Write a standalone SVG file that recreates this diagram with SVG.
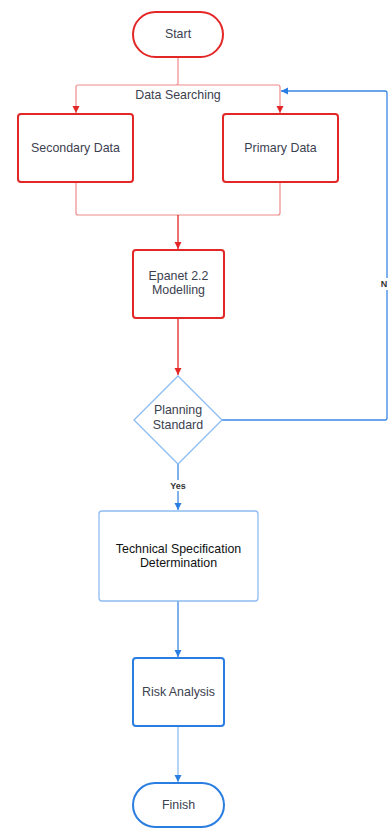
<svg xmlns="http://www.w3.org/2000/svg" width="388" height="828" viewBox="0 0 388 828">
<defs>
<marker id="ar" viewBox="0 0 10 10" refX="10" refY="5" markerWidth="7" markerHeight="8" markerUnits="userSpaceOnUse" orient="auto"><path d="M0,0 L10,5 L0,10 z" fill="#e32626"/></marker>
<marker id="ab" viewBox="0 0 10 10" refX="10" refY="5" markerWidth="7" markerHeight="8" markerUnits="userSpaceOnUse" orient="auto"><path d="M0,0 L10,5 L0,10 z" fill="#2a7de1"/></marker>
</defs>
<style>
text{font-family:"Liberation Sans",Arial,sans-serif;font-size:12.4px;fill:#3c4150;text-anchor:middle}
.red{fill:#fff;stroke:#e32626;stroke-width:2}
.blue{fill:#fff;stroke:#2a7de1;stroke-width:2}
.lblue{fill:#fff;stroke:#8dbcf2;stroke-width:1.3}
.cr{fill:none;stroke:#f08a8a;stroke-width:1.2}
.crs{fill:none;stroke:#e32626;stroke-width:1.3}
.cb{fill:none;stroke:#3a87e4;stroke-width:1.3}
.cbl{fill:none;stroke:#8dbcf2;stroke-width:1.3}
.lbl{font-size:9px;font-weight:bold;fill:#333}
</style>
<rect width="388" height="828" fill="#fff"/>
<g id="connectors">
<path class="cr" d="M178,57 V83 Q178,85 176,85 H78 Q76,85 76,87 V113" marker-end="url(#ar)"/>
<path class="cr" d="M178,85 H278 Q280,85 280,87 V113" marker-end="url(#ar)"/>
<path class="cr" d="M76,182 V213 Q76,215 78,215 H278 Q280,215 280,213 V182"/>
<path class="crs" d="M178,215 V249" marker-end="url(#ar)"/>
<path class="crs" d="M178,318 V375" marker-end="url(#ar)"/>
<path class="cb" d="M222,420 H385 Q387,420 387,418 V290"/>
<path class="cb" d="M387,278 V93 Q387,91 385,91 H281" marker-end="url(#ab)"/>
<text class="lbl" x="384" y="287">N</text>
<path class="cb" d="M178,464 V510" marker-end="url(#ab)"/>
<rect x="168" y="480" width="20" height="11" fill="#fff"/>
<text class="lbl" x="178" y="489">Yes</text>
<path class="cb" d="M178,601 V657" marker-end="url(#ab)"/>
<path class="cbl" d="M178,726 V782" marker-end="url(#ab)"/>
</g>
<text x="178" y="99">Data Searching</text>
<g id="start"><rect class="red" x="133" y="12" width="90" height="45" rx="22.5"/><text x="178" y="38">Start</text></g>
<g id="secondary"><rect class="red" x="18" y="114" width="115" height="68" rx="3"/><text x="75.5" y="151.5">Secondary Data</text></g>
<g id="primary"><rect class="red" x="223" y="114" width="115" height="68" rx="3"/><text x="280.5" y="151.5">Primary Data</text></g>
<g id="epanet"><rect class="red" x="133" y="250" width="91" height="68" rx="3"/><text x="178.5" y="279.5">Epanet 2.2</text><text x="178.5" y="294">Modelling</text></g>
<g id="planning"><path class="lblue" d="M178,376 L222,420 L178,464 L134,420 Z"/><text x="178" y="414">Planning</text><text x="178" y="429">Standard</text></g>
<g id="technical"><rect class="lblue" x="99" y="511" width="159" height="90" rx="3"/><text x="178.5" y="552.5" style="fill:#111">Technical Specification</text><text x="178.5" y="566.5" style="fill:#111">Determination</text></g>
<g id="risk"><rect class="blue" x="133" y="658" width="91" height="68" rx="3"/><text x="178.5" y="695.5">Risk Analysis</text></g>
<g id="finish"><rect class="blue" x="133" y="783" width="91" height="44" rx="22"/><text x="178.5" y="808.5">Finish</text></g>
</svg>
